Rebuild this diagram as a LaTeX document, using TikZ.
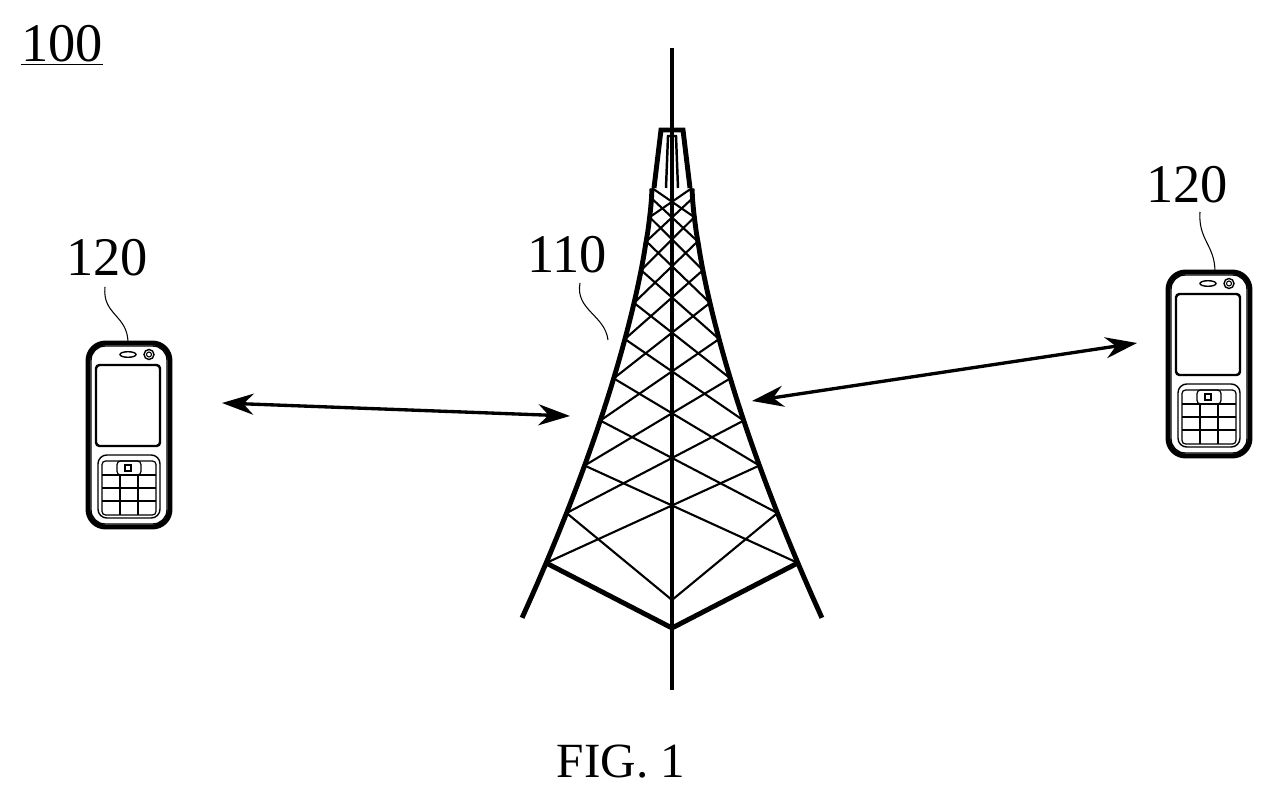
\documentclass[tikz,border=0pt]{standalone}
\usepackage{fontspec}
\setmainfont{Liberation Serif}
\usetikzlibrary{positioning,arrows.meta}

\begin{document}
\begin{tikzpicture}[x=0.02cm,y=-0.02cm,>={Stealth[length=18pt,width=12pt]}, every node/.style={font=\fontsize{31}{31}\selectfont}]
\tikzset{
  leg/.style={line width=2.8pt},
  brace/.style={line width=1.2pt},
  link/.style={line width=1.9pt,<->},
  leader/.style={line width=0.6pt},
  phone/.pic={
    \draw[line width=2.8pt,rounded corners=10] (0,0) rectangle (82,184);
    \draw[line width=0.8pt,rounded corners=8] (3,3) rectangle (79,181);
    \draw[line width=1.4pt,rounded corners=2] (8,22) rectangle (72,103);
    \draw[line width=0.8pt] (40,11.5) ellipse (8 and 2.8);
    \draw[line width=0.8pt] (61,11.5) circle (5);
    \draw[line width=0.6pt] (61,11.5) circle (2.5);
    \draw[line width=0.8pt,rounded corners=5] (10,112) rectangle (72,175);
    \draw[line width=0.7pt,rounded corners=2] (14,118) rectangle (68,172);
    \draw[line width=0.7pt,rounded corners=2] (29,118) rectangle (53,132);
    \draw[line width=0.6pt] (37,122) rectangle (43,128);
    \foreach \r in {0,1,2} {
      \draw[line width=0.7pt] (14,{132+13*\r}) -- (68,{132+13*\r});
    }
    \draw[line width=0.7pt] (32,132) -- (32,172);
    \draw[line width=0.7pt] (50,132) -- (50,172);
  }
}
\useasboundingbox (0,0) rectangle (1272,797);

% labels
\node (sys) at (62,45) {\underline{100}};
\node (fig) at (621,762) {\fontsize{28}{28}\selectfont FIG. 1};

% tower
\def\lx#1{672-(20+130*(#1)^1.5)}
\def\rx#1{672+(20+130*(#1)^1.5)}
\def\ty#1{188+430*(#1)}
\draw[leg] (672,48) -- (672,690);
\draw[leg] (654,188) -- (661,130) -- (683,130) -- (690,188);
\draw[line width=1.4pt] (666,188) -- (668,136) -- (676,136) -- (678,188);
\draw[leg] plot[domain=0.001:1,samples=40] ({\lx{\x}},{\ty{\x}});
\draw[leg] plot[domain=0.001:1,samples=40] ({\rx{\x}},{\ty{\x}});
\foreach \k in {0,...,9} {
  \pgfmathsetmacro\ta{0.872*(\k/11)^1.5}
  \pgfmathsetmacro\tb{0.872*((\k+2)/11)^1.5}
  \draw[brace] ({\lx{\ta}},{\ty{\ta}}) -- ({\rx{\tb}},{\ty{\tb}});
  \draw[brace] ({\rx{\ta}},{\ty{\ta}}) -- ({\lx{\tb}},{\ty{\tb}});
}
\pgfmathsetmacro\tc{0.872*(10/11)^1.5}
\draw[brace] ({\lx{\tc}},{\ty{\tc}}) -- (672,600) -- ({\rx{\tc}},{\ty{\tc}});
\draw[leg] ({\lx{0.872}},{\ty{0.872}}) -- (672,628) -- ({\rx{0.872}},{\ty{0.872}});
\node (tw) at (567,255) {110};
\draw[leader] (580,283) .. controls (575,310) and (605,315) .. (608,340);

% terminals
\pic at (88,343) {phone};
\pic at (1168,272) {phone};
\node (ue1) at (107,258) {120};
\node (ue2) at (1187,185) {120};
\draw[leader] (105,287) .. controls (102,315) and (128,315) .. (128,343);
\draw[leader] (1200,212) .. controls (1198,240) and (1215,245) .. (1215,272);

% links
\coordinate (a1) at (222,403);
\coordinate (a2) at (570,416);
\coordinate (b1) at (752,401);
\coordinate (b2) at (1137,343);
\draw[link] (a1) -- (a2);
\draw[link] (b1) -- (b2);
\end{tikzpicture}
\end{document}
